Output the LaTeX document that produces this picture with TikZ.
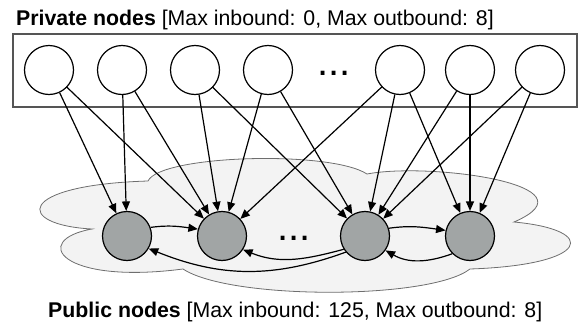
\documentclass[tikz,border=0pt]{standalone}
\usepackage{fontspec}
\setmainfont{Liberation Sans}
\usetikzlibrary{arrows.meta}
\definecolor{pubfill}{RGB}{161,165,165}
\definecolor{cloudfill}{RGB}{243,243,243}
\definecolor{cloudline}{RGB}{110,110,110}
\definecolor{boxline}{RGB}{85,85,85}
\begin{document}
\begin{tikzpicture}[x=1pt,y=-1pt,
  priv/.style={circle,draw=black,fill=white,line width=1.2pt,minimum size=49pt,inner sep=0pt},
  pub/.style={circle,draw=black,fill=pubfill,line width=1.2pt,minimum size=49pt,inner sep=0pt},
  conn/.style={line width=1.2pt,-{Triangle[length=9.5pt,width=8pt]}},
  lbl/.style={font=\fontsize{21.3}{25}\selectfont,inner sep=0pt},
  dotsnode/.style={font=\fontsize{40}{40}\selectfont,inner sep=0pt,anchor=base}]
\useasboundingbox (0,0) rectangle (579,324);
% cloud
\draw[fill=cloudfill,draw=cloudline,line width=0.8pt]
  (92,229) .. controls (15,225) and (15,185) .. (148,181)
  .. controls (160,155) and (330,150) .. (367,174)
  .. controls (430,162) and (600,185) .. (514,222)
  .. controls (600,230) and (590,265) .. (470,269)
  .. controls (430,300) and (230,300) .. (183,269)
  .. controls (60,285) and (30,240) .. cycle;
% private box
\draw[boxline,line width=1.2pt] (13,34) rectangle (577,107);
% labels
\node[lbl,anchor=base west] (ptitle) at (16,26) {\textbf{Private nodes} [Max inbound: 0, Max outbound: 8]};
\node[lbl,anchor=base west] (pubtitle) at (48,317) {\textbf{Public nodes} [Max inbound: 125, Max outbound: 8]};
% private nodes
\node[priv] (T1) at (49,70) {};
\node[priv] (T2) at (122,70) {};
\node[priv] (T3) at (195,70) {};
\node[priv] (T4) at (268,70) {};
\node[dotsnode] (tdots) at (334,75) {...};
\node[priv] (T5) at (400,70) {};
\node[priv] (T6) at (470,70) {};
\node[priv] (T7) at (540,70) {};
% public nodes
\node[pub] (B1) at (127,236) {};
\node[pub] (B2) at (222,236) {};
\node[dotsnode] (bdots) at (294,240) {...};
\node[pub] (B3) at (365,236) {};
\node[pub] (B4) at (470,236) {};
% private -> public
\foreach \s/\t in {T1/B1,T1/B2,T2/B1,T2/B2,T3/B2,T3/B3,T4/B2,T4/B3,T5/B2,T5/B3,T5/B4,T6/B3,T6/B4,T7/B3,T7/B4}
  \draw[conn] (\s) -- (\t);
% public <-> public
\draw[conn] (B1.20) to[out=8,in=172] (B2.164);
\draw[conn] (B3.18) to[out=8,in=172] (B4.167);
\draw[conn] (B4.225) to[out=200,in=-30] (B3.-35);
\draw[conn] (B3.212) to[out=195,in=-22] (B2.-33);
\draw[conn] (B3.220) to[out=200,in=-22] (B1.-30);
\end{tikzpicture}
\end{document}
